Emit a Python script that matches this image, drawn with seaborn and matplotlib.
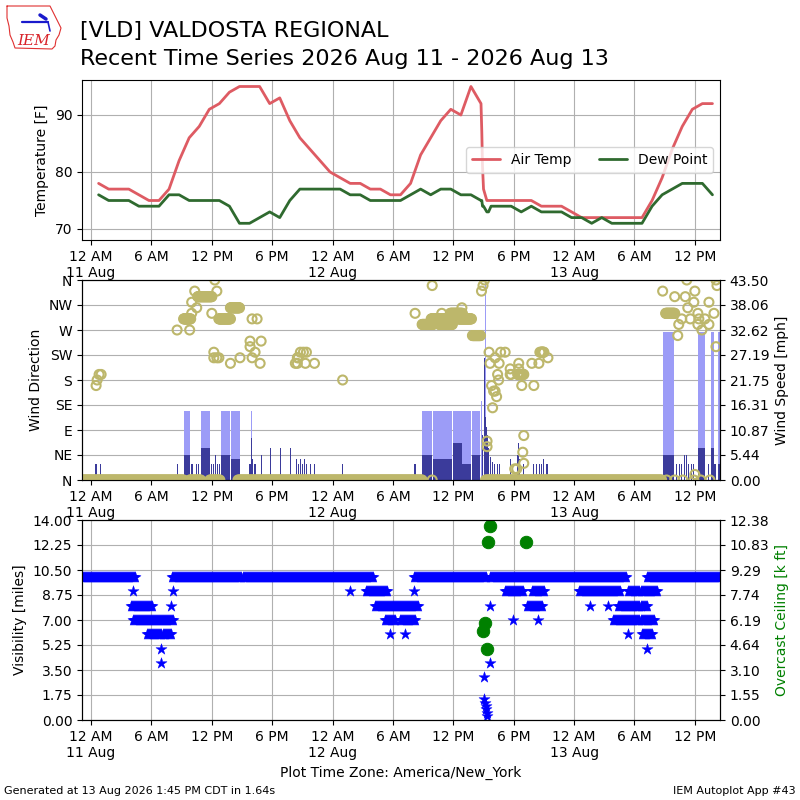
import numpy as np
import pandas as pd
import seaborn as sns
import matplotlib
matplotlib.use("Agg")
import matplotlib.pyplot as plt
from matplotlib.lines import Line2D
from matplotlib.ticker import FormatStrFormatter

# all times are hours since 12 AM 11 Aug 2026 (America/New_York)

# hourly observations (first one at 12:45 AM 11 Aug)
temp_hourly = [78, 77, 77, 77, 76, 75, 75, 77, 82, 86, 88, 91, 92, 94, 95, 95,
               95, 92, 93, 89, 86, 84, 82, 80, 79, 78, 78, 77, 77, 76, 76, 78,
               83, 86, 89, 91, 90, 95, 92, 75, 75, 75, 75, 75, 74, 74, 74, 73,
               72, 72, 72, 72, 72, 72, 72, 75, 79, 84, 88, 91, 92, 92]
dewp_hourly = [76, 75, 75, 75, 74, 74, 74, 76, 76, 75, 75, 75, 75, 74, 71, 71,
               72, 73, 72, 75, 77, 77, 77, 77, 77, 76, 76, 75, 75, 75, 75, 76,
               77, 76, 77, 77, 76, 76, 75, 74, 74, 74, 73, 74, 73, 73, 73, 72,
               72, 71, 72, 71, 71, 71, 71, 74, 76, 77, 78, 78, 78, 76]
# special observations during the storm on 12 Aug
special_hours = [38.83, 38.9, 39.0, 39.33, 39.5]
special_temp = [87, 81, 77, 75, 75]
special_dewp = [75, 74, 74, 73, 73]

# wind direction: calm periods (plotted at 0) and windy readings
calm_runs = [(-1.0, 9.2), (9.8, 10.9), (11.8, 12.8), (14.6, 32.9), (39.2, 56.7)]
calm_hours = [33.9, 57.2, 58.0, 58.8, 59.9, 60.6, 61.5]
dir_runs = [(9.2, 9.9, 290), (10.6, 12.0, 330), (12.7, 13.85, 290), (13.85, 14.75, 310),
            (32.9, 34.0, 280), (33.8, 35.3, 290), (34.6, 35.9, 280), (35.7, 36.9, 300),
            (36.5, 37.8, 290), (37.9, 38.7, 260), (42.4, 43.0, 190), (44.7, 45.0, 230),
            (57.1, 58.0, 300)]
dir_hours = [0.5, 0.6, 0.8, 1.0,
             8.55, 9.8, 10.0, 10.0, 10.3, 10.5, 12.0, 12.2, 12.2, 12.3, 12.5, 12.5,
             12.7, 13.85, 14.8, 15.8, 15.8, 16.0, 16.0, 16.3, 16.5, 16.8, 16.9,
             20.3, 20.5, 20.5, 20.6, 20.8, 21.1, 21.3, 21.4, 22.2, 25.0,
             32.2, 33.9, 34.85, 36.85, 38.8, 38.95, 39.1, 39.35, 39.35, 39.55, 39.65,
             39.8, 39.9, 40.0, 40.15, 40.15, 40.3, 40.4, 40.5, 40.55, 40.7,
             41.15, 41.65, 41.65, 41.75, 42.1, 42.3, 42.5, 42.5, 42.8, 42.9, 43.0,
             43.0, 43.8, 44.0, 44.5, 44.6, 45.4,
             56.8, 58.0, 58.3, 58.4, 58.7, 59.05, 59.2, 59.3, 59.55, 59.9, 60.0, 60.0,
             60.3, 60.3, 60.4, 60.7, 61.0, 61.4, 61.4, 61.9, 62.1, 62.1, 62.2]
dir_deg = [170, 180, 190, 190,
           270, 270, 320, 300, 340, 310, 300, 230, 220, 360, 340, 220,
           220, 210, 220, 250, 240, 290, 220, 230, 290, 210, 250,
           210, 220, 210, 220, 230, 230, 210, 230, 210, 180,
           300, 350, 300, 310, 340, 350, 360, 70, 60, 230, 210,
           170, 130, 160, 220, 160, 150, 190, 180, 210, 230,
           230, 200, 190, 190, 20, 20, 210, 200, 170, 50, 80,
           30, 210, 170, 210, 230, 220,
           340, 330, 260, 280, 290, 330, 360, 310, 290, 320, 340, 10,
           300, 280, 290, 270, 290, 320, 280, 300, 240, 360, 350]

# wind speed / gust [mph]
block_start = [9.2, 10.9, 12.9, 13.9, 32.9, 34.0, 35.95, 36.9, 37.85, 56.8, 60.3, 61.6, 62.3]
block_end = [9.8, 11.8, 13.8, 14.8, 33.9, 35.9, 36.85, 37.8, 38.7, 57.9, 61.0, 61.9, 62.6]
block_gust = [15.0, 15.0, 15.0, 15.0, 15.0, 15.0, 15.0, 15.0, 15.0, 32.2, 32.2, 32.2, 32.2]
block_speed = [5.5, 6.9, 5.5, 4.6, 5.5, 4.6, 8.1, 3.5, 5.5, 5.5, 6.9, 6.9, 3.5]
gust_hours = [15.95, 38.8, 39.15]
gust_mph = [15.0, 17.2, 43.3]
speed_hours = [0.5, 0.9, 8.6, 10.04, 10.5, 10.7, 12.0, 12.2, 12.4, 12.6,
               12.75, 15.8, 15.95, 16.0, 16.3, 16.9, 17.8, 18.8, 19.8, 20.4,
               20.6, 20.8, 21.0, 21.2, 21.4, 21.8, 22.2, 25.0, 32.2, 38.9,
               39.1, 39.2, 39.3, 39.4, 39.5, 39.7, 39.9, 40.1, 40.4, 40.6,
               41.65, 42.4, 42.5, 42.6, 43.0, 44.0, 44.3, 44.6, 44.8, 45.0,
               45.3, 58.2, 58.45, 58.65, 58.95, 59.2, 59.4, 59.7, 59.9, 61.35,
               62.0]
speed_mph = [3.5, 3.5, 3.5, 3.5, 3.5, 3.5, 3.5, 3.5, 5.5, 3.5,
             3.5, 3.5, 9.2, 4.6, 3.5, 5.5, 6.9, 6.9, 6.9, 4.6,
             3.5, 4.6, 3.5, 4.6, 3.5, 3.5, 3.5, 3.5, 3.5, 9.8,
             26.6, 13.8, 11.6, 9.8, 6.9, 5.1, 4.0, 3.5, 3.5, 3.5,
             4.6, 5.5, 8.1, 4.6, 3.5, 3.5, 3.5, 3.5, 3.5, 4.6,
             3.5, 3.5, 3.5, 3.5, 5.5, 5.5, 3.5, 3.5, 3.5, 3.5,
             3.5]

# visibility [miles]: steady runs and single readings
vis_runs = [(-1.0, 4.4, 10), (8.05, 28.05, 10), (32.05, 39.2, 10), (39.6, 53.25, 10),
            (55.2, 62.6, 10), (27.3, 29.4, 9), (41.15, 43.0, 9), (43.8, 45.0, 9),
            (48.45, 52.6, 9), (53.4, 56.2, 9), (4.0, 6.1, 8), (28.2, 32.5, 8),
            (43.3, 44.8, 8), (52.4, 55.2, 8), (4.15, 8.2, 7), (29.2, 30.2, 7),
            (30.7, 32.2, 7), (51.9, 55.9, 7), (5.6, 7.9, 6), (54.7, 55.7, 6)]
vis_hours = [4.2, 8.1, 25.75, 32.1, 7.9, 39.6, 49.6, 51.4, 41.9, 44.4,
             29.7, 31.2, 53.4, 6.95, 55.2, 6.96, 39.6, 39.0, 39.0, 39.1,
             39.25, 39.2, 39.3, 39.35]
vis_miles = [9, 9, 9, 9, 8, 8, 8, 8, 7, 7,
             6, 6, 6, 5, 5, 4, 4, 3, 1.5, 1.2,
             1.0, 0.8, 0.5, 0.3]
ceil_hours = [38.9, 39.1, 39.3, 39.4, 39.6, 43.24]
ceil_kft = [5.5, 6.0, 4.4, 11.0, 12.0, 11.0]


def expand(runs, step):
    hours, vals = [], []
    for start, end, val in runs:
        for h in np.arange(start, end + step / 2, step):
            hours.append(h)
            vals.append(val)
    return hours, vals


def fmt_time_axis(ax):
    ticks = list(range(0, 61, 6))
    labels = []
    for t in ticks:
        hr = t % 24
        lbl = {0: "12 AM", 6: "6 AM", 12: "12 PM", 18: "6 PM"}[hr]
        if hr == 0:
            lbl += f"\n{11 + t // 24} Aug"
        labels.append(lbl)
    ax.set_xticks(ticks)
    ax.set_xticklabels(labels)
    ax.set_xlim(-0.9, 62.5)


def px(x, y):
    return x / 800, 1 - y / 800


sns.set_style("ticks")
plt.rcParams["font.family"] = ["DejaVu Sans"]
plt.rcParams.update({
    "text.color": "black", "axes.labelcolor": "black", "axes.edgecolor": "black",
    "xtick.color": "black", "ytick.color": "black",
})

fig = plt.figure(figsize=(8, 8), dpi=100)

# --- temperature panel
temp_df = pd.DataFrame({
    "hour": [k + 0.75 for k in range(len(temp_hourly))] + special_hours,
    "tmpf": temp_hourly + special_temp,
    "dwpf": dewp_hourly + special_dewp,
}).sort_values("hour")

ax1 = fig.add_axes([0.1025, 0.7, 0.7975, 0.2])
sns.lineplot(data=temp_df, x="hour", y="tmpf", ax=ax1, color="#de5b63", lw=2,
             label="Air Temp", estimator=None)
sns.lineplot(data=temp_df, x="hour", y="dwpf", ax=ax1, color="#2f6a2f", lw=2,
             label="Dew Point", estimator=None)
ax1.set_ylim(68.07, 96.14)
ax1.set_yticks([70, 80, 90])
ax1.set_ylabel("Temperature [F]")
ax1.set_xlabel("")
ax1.grid(True, color="#b0b0b0", lw=0.8)
ax1.legend(loc="center right", ncol=2)
fmt_time_axis(ax1)

# --- wind panel
ax2 = fig.add_axes([0.1025, 0.4, 0.7975, 0.25])
ax2s = ax2.twinx()
ax2.set_zorder(ax2s.get_zorder() + 1)
ax2.patch.set_visible(False)

block_width = [e - s for s, e in zip(block_start, block_end)]
ax2s.bar(block_start, block_gust, width=block_width, align="edge", color="#9c9cf7", lw=0)
ax2s.bar(gust_hours, gust_mph, width=0.1, color="#9c9cf7", lw=0)
ax2s.bar(block_start, block_speed, width=block_width, align="edge", color="#3b3b9b", lw=0)
ax2s.bar(speed_hours, speed_mph, width=0.12, color="#3b3b9b", lw=0)
ax2s.set_ylim(0, 43.498)
ax2s.set_yticks(np.linspace(0, 43.498, 9))
ax2s.yaxis.set_major_formatter(FormatStrFormatter("%.2f"))
ax2s.set_ylabel("Wind Speed [mph]")
ax2s.grid(True, color="#b0b0b0", lw=0.8)
ax2s.set_axisbelow(True)

calm_h, calm_d = expand([(s, e, 0) for s, e in calm_runs], 0.1)
run_h, run_d = expand(dir_runs, 0.05)
dir_df = pd.DataFrame({
    "hour": calm_h + calm_hours + run_h + dir_hours,
    "drct": calm_d + [0] * len(calm_hours) + run_d + dir_deg,
})
sns.scatterplot(data=dir_df, x="hour", y="drct", ax=ax2, s=42, marker="o",
                facecolor="none", edgecolor="#bdb76b", linewidth=1.5)
ax2.set_ylim(0, 360)
ax2.set_yticks(range(0, 361, 45))
ax2.set_yticklabels(["N", "NE", "E", "SE", "S", "SW", "W", "NW", "N"])
ax2.set_ylabel("Wind Direction")
ax2.set_xlabel("")
fmt_time_axis(ax2)

# --- visibility / ceiling panel
ax3 = fig.add_axes([0.1025, 0.1, 0.7975, 0.25])
rh, rv = expand(vis_runs, 0.1)
vis_df = pd.DataFrame({"hour": rh + vis_hours, "vsby": rv + vis_miles})
sns.scatterplot(data=vis_df, x="hour", y="vsby", ax=ax3, marker="*", s=70,
                color="blue", edgecolor="blue", linewidth=0.3)
ax3.set_ylim(0, 14)
ax3.set_yticks(np.arange(0, 14.01, 1.75))
ax3.yaxis.set_major_formatter(FormatStrFormatter("%.2f"))
ax3.set_ylabel("Visibility [miles]")
ax3.set_xlabel("Plot Time Zone: America/New_York")
ax3.grid(True, color="#b0b0b0", lw=0.8)
fmt_time_axis(ax3)

ax3s = ax3.twinx()
ceil_df = pd.DataFrame({"hour": ceil_hours, "ceil": ceil_kft})
sns.scatterplot(data=ceil_df, x="hour", y="ceil", ax=ax3s, s=80, color="green",
                edgecolor="green")
ax3s.set_ylim(0, 12.38)
ax3s.set_yticks(np.linspace(0, 12.38, 9))
ax3s.yaxis.set_major_formatter(FormatStrFormatter("%.2f"))
ax3s.set_ylabel("Overcast Ceiling [k ft]", color="green")
ax3s.set_xlim(-0.9, 62.5)

# --- header / footer
fig.text(*px(80, 37), "[VLD] VALDOSTA REGIONAL", fontsize=16, va="baseline")
fig.text(*px(80, 65), "Recent Time Series 2026 Aug 11 - 2026 Aug 13", fontsize=16,
         va="baseline")

# small IEM logo (state outline, vane and letters)
outline = [(7, 6), (50, 6), (52, 10), (57, 20), (61, 28), (59, 35), (56, 40),
           (55, 46), (52, 49), (15, 48), (13, 42), (10, 35), (9, 26), (7, 18), (7, 6)]
ox, oy = zip(*[px(x, y) for x, y in outline])
fig.add_artist(Line2D(ox, oy, color="#e03030", lw=0.8))
vx, vy = zip(*[px(x, y) for x, y in [(22, 22), (48, 22)]])
fig.add_artist(Line2D(vx, vy, color="#1a1acc", lw=1.6))
vx, vy = zip(*[px(x, y) for x, y in [(40, 15), (46, 19)]])
fig.add_artist(Line2D(vx, vy, color="#1a1acc", lw=2.5))
vx, vy = zip(*[px(x, y) for x, y in [(48, 22), (50, 31)]])
fig.add_artist(Line2D(vx, vy, color="#1a1acc", lw=1.2))
fig.text(*px(17, 45), "IEM", color="#d8232a", fontsize=11, style="italic",
         family="serif", va="baseline")

fig.text(0.005, 0.008, "Generated at 13 Aug 2026 1:45 PM CDT in 1.64s", fontsize=8)
fig.text(0.995, 0.008, "IEM Autoplot App #43", fontsize=8, ha="right")

fig.savefig("out.png", dpi=100)
